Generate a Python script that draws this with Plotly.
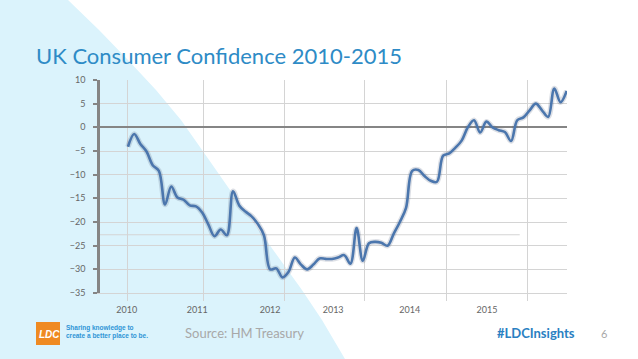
import plotly.graph_objects as go

# ---- data (monthly index, Jan 2010 = 0) ----
months = list(range(72))
confidence = [
    -4.1, -1.4, -3.5, -5.1, -8.0, -9.2, -16.3, -12.5, -14.8, -15.3,
    -16.5, -16.7, -18.0, -20.5, -23.0, -21.6, -22.8, -13.5, -16.5, -17.8,
    -18.8, -20.4, -22.8, -30.0, -29.8, -31.7, -30.5, -27.5, -29.0, -30.0,
    -29.0, -27.7, -27.8, -27.8, -27.5, -27.0, -28.8, -21.3, -28.2, -24.5,
    -24.2, -24.4, -25.0, -22.5, -20.0, -17.0, -9.2, -9.0, -10.3, -11.3,
    -11.5, -6.0, -5.5, -4.3, -2.8, 0.0, 1.5, -1.1, 1.2, 0.0,
    -0.6, -1.0, -2.9, 1.5, 2.1, 3.6, 5.0, 3.6, 2.2, 8.2,
    5.3, 7.7,
]
year_labels = ["2010", "2011", "2012", "2013", "2014", "2015"]
year_label_pos = [-0.2, 11.2, 23.0, 33.2, 45.6, 58.1]
year_grid_pos = [0, 12.3, 25.4, 38.3, 51.5, 64.6]
y_ticks = [10, 5, 0, -5, -10, -15, -20, -25, -30, -35]
extra_line_y = -22.7
extra_line_x_end = 63.4

# ---- layout geometry (pixels) ----
FW, FH = 638, 359
L, R, T, B = 100, 71, 80, 66
PW, PH = FW - L - R, FH - T - B


def px(x):
    return (x - L) / PW


def py(y):
    return 1 - (y - T) / PH


fig = go.Figure()

fig.add_trace(go.Scatter(
    x=months, y=confidence, mode="lines", line_shape="spline",
    line=dict(color="rgba(60,80,110,0.18)", width=5.5),
    hoverinfo="skip", showlegend=False,
))
fig.add_trace(go.Scatter(
    x=months, y=confidence, mode="lines", line_shape="spline",
    line=dict(color="#4b76ad", width=2.6),
    showlegend=False, name="Consumer confidence",
))

# light blue diagonal background (gently curved edge)
bg_pts = [(0, 0), (68, 0), (99, 30), (128, 60), (156, 90), (181, 120),
          (207, 157), (230, 190), (266, 240), (302, 290), (322, 320),
          (345, 359), (0, 359)]
path = "M " + " L ".join(f"{px(x):.4f},{py(y):.4f}" for x, y in bg_pts) + " Z"
shapes = [
    dict(type="path", path=path, xref="paper", yref="paper",
         fillcolor="#dbf3fc", line=dict(width=0), layer="below"),
    dict(type="line", xref="x", yref="y", x0=-4.53, x1=extra_line_x_end,
         y0=extra_line_y, y1=extra_line_y,
         line=dict(color="#d4d4d4", width=1), layer="below"),
    # logo box
    dict(type="rect", xref="paper", yref="paper",
         x0=px(36), x1=px(60), y0=py(345), y1=py(322),
         fillcolor="#ef8a22", line=dict(width=0)),
]

annotations = [
    dict(text="UK Consumer Confidence 2010-2015", xref="paper", yref="paper",
         x=px(34), y=py(55), xanchor="left", yanchor="middle", showarrow=False,
         font=dict(family="Lato", size=22, color="#2e8bc6")),
    dict(text="<b><i>LDC</i></b>", xref="paper", yref="paper",
         x=px(49), y=py(334), xanchor="center", yanchor="middle", showarrow=False,
         font=dict(family="Liberation Sans", size=10, color="white")),
    dict(text="<b>Sharing knowledge to<br>create a better place to be.</b>",
         xref="paper", yref="paper", x=px(64), y=py(332), xanchor="left",
         yanchor="middle", showarrow=False, align="left",
         font=dict(family="Liberation Sans", size=6.5, color="#2f95d6")),
    dict(text="Source: HM Treasury", xref="paper", yref="paper",
         x=px(183), y=py(333), xanchor="left", yanchor="middle", showarrow=False,
         font=dict(family="Lato", size=13, color="#a8a8a8")),
    dict(text="<b>#LDCInsights</b>", xref="paper", yref="paper",
         x=px(577), y=py(333), xanchor="right", yanchor="middle", showarrow=False,
         font=dict(family="Lato", size=13, color="#2a80c2")),
    dict(text="6", xref="paper", yref="paper",
         x=px(604), y=py(333), xanchor="center", yanchor="middle", showarrow=False,
         font=dict(family="Lato", size=11, color="#a8a8a8")),
]

fig.update_layout(
    width=FW, height=FH,
    margin=dict(l=L, r=R, t=T, b=B, pad=0),
    paper_bgcolor="white", plot_bgcolor="rgba(0,0,0,0)",
    shapes=shapes, annotations=annotations, showlegend=False,
    xaxis=dict(
        range=[-4.53, 71.05], tickmode="array", tickvals=year_label_pos,
        ticktext=year_labels, showgrid=False, ticks="", zeroline=False,
        showline=True, linecolor="#d4d4d4", linewidth=1,
        ticklabelstandoff=8,
        tickfont=dict(family="Lato", size=9, color="#666666"),
        minor=dict(tickmode="array", tickvals=year_grid_pos, showgrid=True,
                   gridcolor="#d4d4d4", gridwidth=1, ticks="outside",
                   ticklen=7, tickcolor="#d4d4d4", tickwidth=1),
    ),
    yaxis=dict(
        range=[-35, 10], tickmode="array", tickvals=y_ticks,
        showgrid=True, gridcolor="#d4d4d4", gridwidth=1,
        zeroline=True, zerolinecolor="#858585", zerolinewidth=2,
        showline=True, linecolor="#858585", linewidth=2.5,
        ticks="outside", ticklen=4, tickcolor="#858585", tickwidth=1.5,
        ticklabelstandoff=6,
        tickfont=dict(family="Lato", size=9, color="#666666"),
    ),
)

fig.write_html(
    "out.html",
    config={"displayModeBar": False},
    post_script="document.body.style.margin='0';document.body.style.overflow='hidden';",
)
